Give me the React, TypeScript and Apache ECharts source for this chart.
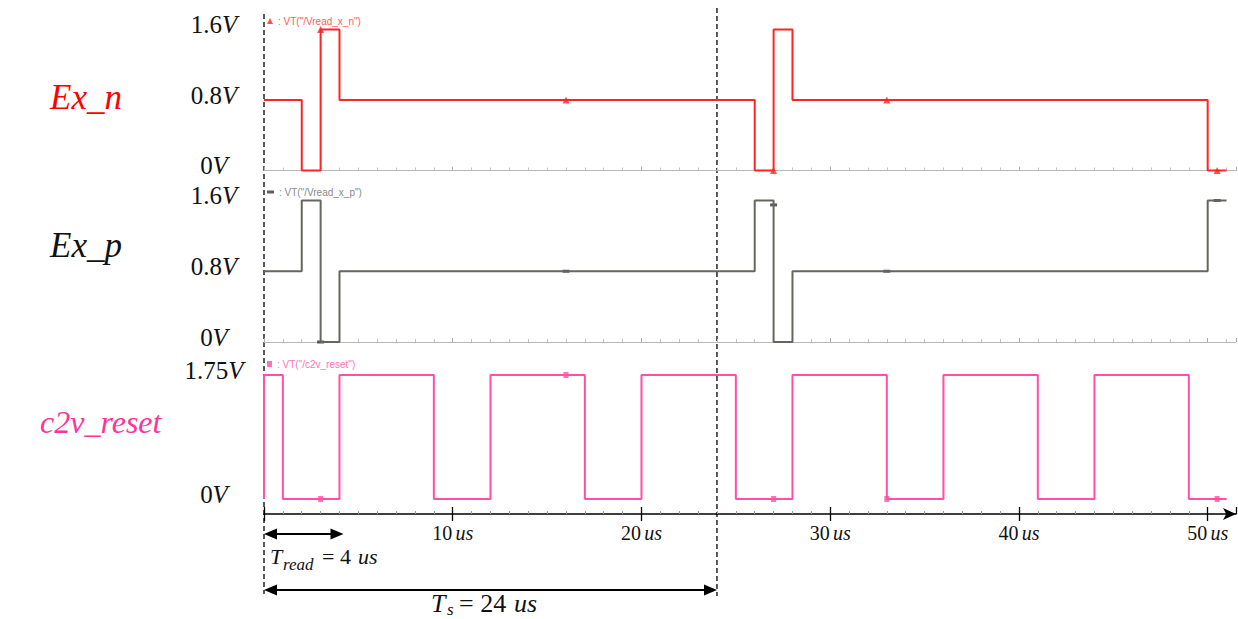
import React, { useEffect, useRef } from 'react';
import * as echarts from 'echarts';

// time axis (us)
const timeMin = 0;
const timeMax = 51.5;
const timeInterval = 10;

// voltage levels shown on the y axes
const exLevels = [0, 0.8, 1.6];
const resetLevels = [0, 1.75];

// waveforms: [time (us), voltage] change points (step: 'end')
const exNWave: [number, number][] = [
  [0, 0.8], [2, 0], [3, 1.6], [4, 0.8], [26, 0], [27, 1.6], [28, 0.8], [50, 0], [51, 0],
];
const exPWave: [number, number][] = [
  [0, 0.8], [2, 1.6], [3, 0], [4, 0.8], [26, 1.6], [27, 0], [28, 0.8], [50, 1.6], [51, 1.6],
];
const resetWave: [number, number][] = [
  [0, 0], [0, 1.75], [1, 0], [4, 1.75], [9, 0], [12, 1.75], [17, 0], [20, 1.75], [25, 0],
  [28, 1.75], [33, 0], [36, 1.75], [41, 0], [44, 1.75], [49, 0], [51, 0],
];

// simulator markers
const exNMarks: [number, number][] = [[3, 1.6], [16, 0.8], [27, 0], [33, 0.8], [50.5, 0]];
const exPMarks: [number, number][] = [[3, 0], [16, 0.8], [27, 1.55], [33, 0.8], [50.5, 1.6]];
const resetMarks: [number, number][] = [[3, 0], [16, 1.75], [27, 0], [33, 0], [50.5, 0]];

// annotations
const tRead = 4;
const tS = 24;

const RED = '#ff2424';
const GRAY = '#66665e';
const PINK = '#ff4fa6';

const NAME_N = 'VT("/Vread_x_n")';
const NAME_P = 'VT("/Vread_x_p")';
const NAME_R = 'VT("/c2v_reset")';

const SERIF = "'Liberation Serif', 'DejaVu Serif', serif";

const yRich = {
  n: { fontFamily: SERIF, fontSize: 25, color: '#111' },
  v: { fontFamily: SERIF, fontSize: 25, fontStyle: 'italic', color: '#111' },
};
const fmtV = (v: number) => `{n|${Number(v.toFixed(2))}}{v|V}`;

export default function App() {
  const ref = useRef<HTMLDivElement>(null);
  useEffect(() => {
    document.body.style.margin = '0';
    if (!ref.current) return;
    const chart = echarts.init(ref.current, undefined, { renderer: 'svg' });

    const gridLeft = 264;
    const gridWidth = 972;
    const grids = [
      { left: gridLeft, width: gridWidth, top: 29.5, height: 141 },
      { left: gridLeft, width: gridWidth, top: 200.5, height: 141.5 },
      { left: gridLeft, width: gridWidth, top: 375, height: 124 },
    ];

    const panelX = (gi: number) => ({
      type: 'value', gridIndex: gi, min: timeMin, max: timeMax, interval: timeInterval,
      axisLine: { onZero: false, lineStyle: { color: '#b8b8b8', width: 1 } },
      axisTick: { inside: true, length: 4, lineStyle: { color: '#aaaaaa' } },
      minorTick: { show: true, splitNumber: 10, length: 3, lineStyle: { color: '#c0c0c0' } },
      axisLabel: { show: false },
      splitLine: { show: false },
    });

    const yAx = (gi: number, levels: number[]) => ({
      type: 'value', gridIndex: gi, min: levels[0], max: levels[levels.length - 1],
      interval: levels[1] - levels[0],
      axisLine: { show: false, onZero: false },
      axisTick: { show: false },
      splitLine: { show: false },
      axisLabel: { align: 'center', margin: 50, formatter: fmtV, rich: yRich, padding: [0, 0, 10, 0] },
    });

    const option: any = {
      animation: false,
      backgroundColor: '#ffffff',
      grid: grids,
      legend: [
        {
          data: [{ name: NAME_N, icon: 'triangle' }], left: 267, top: 16, itemWidth: 6, itemHeight: 6,
          formatter: ': {name}', textStyle: { fontSize: 10, color: '#ff5c5c', fontFamily: "'Liberation Sans', sans-serif" },
          selectedMode: false, padding: 0, itemGap: 2,
        },
        {
          data: [{ name: NAME_P, icon: 'rect' }], left: 267, top: 187, itemWidth: 7, itemHeight: 3,
          formatter: ': {name}', textStyle: { fontSize: 10, color: '#8a8a8a', fontFamily: "'Liberation Sans', sans-serif" },
          selectedMode: false, padding: 0,
        },
        {
          data: [{ name: NAME_R, icon: 'rect' }], left: 267, top: 359, itemWidth: 5, itemHeight: 6,
          formatter: ': {name}', textStyle: { fontSize: 10, color: '#ff74b9', fontFamily: "'Liberation Sans', sans-serif" },
          selectedMode: false, padding: 0,
        },
      ],
      xAxis: [
        panelX(0),
        panelX(1),
        {
          type: 'value', gridIndex: 2, min: timeMin, max: timeMax, interval: timeInterval,
          position: 'bottom', offset: 15,
          axisLine: { onZero: false, symbol: ['none', 'arrow'], symbolSize: [9, 13], lineStyle: { color: '#000', width: 1.5 } },
          axisTick: { length: 7, lineStyle: { color: '#000', width: 1.3 } },
          axisLabel: {
            margin: 9,
            formatter: (v: number) => (v === 0 ? '' : `{n|${v}} {u|us}`),
            rich: {
              n: { fontFamily: SERIF, fontSize: 20, color: '#111' },
              u: { fontFamily: SERIF, fontSize: 20, fontStyle: 'italic', color: '#111' },
            },
          },
          splitLine: { show: false },
        },
        {
          type: 'value', gridIndex: 2, min: timeMin, max: timeMax, interval: timeInterval,
          position: 'bottom', offset: 15,
          axisLine: { show: false, onZero: false },
          axisTick: { inside: true, length: 7, lineStyle: { color: '#000', width: 1.3 } },
          minorTick: { show: true, splitNumber: 10, length: 3, lineStyle: { color: '#999' } },
          axisLabel: { show: false },
          splitLine: { show: false },
        },
      ],
      yAxis: [yAx(0, exLevels), yAx(1, exLevels), yAx(2, resetLevels)],
      series: [
        {
          name: 'Ex_n', type: 'line', step: 'end', xAxisIndex: 0, yAxisIndex: 0, data: exNWave,
          showSymbol: false, clip: false, lineStyle: { color: RED, width: 2 }, itemStyle: { color: RED },
        },
        {
          name: NAME_N, type: 'scatter', xAxisIndex: 0, yAxisIndex: 0, data: exNMarks,
          symbol: 'triangle', symbolSize: 7, itemStyle: { color: RED }, clip: false,
        },
        {
          name: 'Ex_p', type: 'line', step: 'end', xAxisIndex: 1, yAxisIndex: 1, data: exPWave,
          showSymbol: false, clip: false, lineStyle: { color: GRAY, width: 2 }, itemStyle: { color: GRAY },
        },
        {
          name: NAME_P, type: 'scatter', xAxisIndex: 1, yAxisIndex: 1, data: exPMarks,
          symbol: 'rect', symbolSize: [7, 3], itemStyle: { color: '#333' }, clip: false,
        },
        {
          name: 'c2v_reset', type: 'line', step: 'end', xAxisIndex: 2, yAxisIndex: 2, data: resetWave,
          showSymbol: false, clip: false, lineStyle: { color: PINK, width: 2 }, itemStyle: { color: PINK },
        },
        {
          name: NAME_R, type: 'scatter', xAxisIndex: 2, yAxisIndex: 2, data: resetMarks,
          symbol: 'rect', symbolSize: [5, 6], itemStyle: { color: PINK }, clip: false,
        },
      ],
    };
    chart.setOption(option);

    const px = (t: number) => chart.convertToPixel({ xAxisIndex: 2 }, t) as number;
    const x0 = px(0);
    const x4 = px(tRead);
    const x24 = px(tS);

    const arrow = (xa: number, xb: number, y: number) => [
      { type: 'line', shape: { x1: xa + 6, y1: y, x2: xb - 6, y2: y }, style: { stroke: '#000', lineWidth: 1.8 } },
      { type: 'polygon', shape: { points: [[xa, y], [xa + 13, y - 5.5], [xa + 13, y + 5.5]] }, style: { fill: '#000' } },
      { type: 'polygon', shape: { points: [[xb, y], [xb - 13, y - 5.5], [xb - 13, y + 5.5]] }, style: { fill: '#000' } },
    ];

    const txt = (text: string, x: number, y: number, size: number, italic: boolean, color = '#111') => ({
      type: 'text', x, y,
      style: {
        text, fill: color, fontSize: size, fontFamily: SERIF, fontStyle: italic ? 'italic' : 'normal',
        verticalAlign: 'middle', align: 'left',
      },
    });

    chart.setOption({
      graphic: [
        { type: 'line', shape: { x1: x0, y1: 14, x2: x0, y2: 594 }, style: { stroke: '#000', lineWidth: 1.3, lineDash: [5, 3] } },
        { type: 'line', shape: { x1: x24, y1: 8, x2: x24, y2: 596 }, style: { stroke: '#000', lineWidth: 1.3, lineDash: [5, 3] } },
        ...arrow(x0, x4 + 4, 534),
        ...arrow(x0, x24, 590),
        txt('T', 270, 556, 22, true),
        txt('read', 283, 564, 17, true),
        txt('= 4', 322, 556, 22, false),
        txt('us', 358, 556, 22, true),
        txt('T', 431, 603, 26, true),
        txt('s', 447, 609, 17, true),
        txt('= 24', 459, 603, 26, false),
        txt('us', 514, 603, 26, true),
        txt('Ex_n', 50, 97, 35, true, '#ff0000'),
        txt('Ex_p', 50, 245, 35, true, '#111'),
        txt('c2v_reset', 40, 422, 32, true, '#ff3399'),
      ],
    });

    return () => chart.dispose();
  }, []);
  return <div ref={ref} style={{ width: 1238, height: 619 }} />;
}
